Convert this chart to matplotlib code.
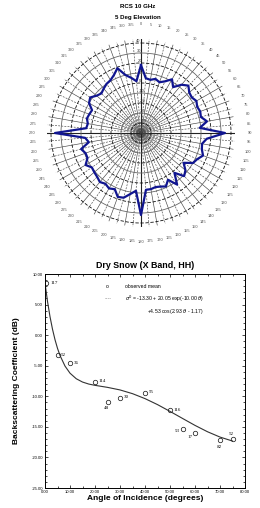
import numpy as np
import matplotlib
matplotlib.use("Agg")
import matplotlib.pyplot as plt
from matplotlib.ticker import MultipleLocator, FormatStrFormatter

plt.rcParams['font.family'] = ['Liberation Sans', 'DejaVu Sans']

# ---- polar RCS data (deg clockwise from north, dBsm) ----
az_deg = list(range(0, 360, 5))
rcs_db = [18, 5, 4, 6, 4, 7, 12, 6, 13, 17, 13, 12, 14, 12, 13, 12, 17, 9,
          34, 16, 12, 13, 16, 12, 10, 2, 8, 11, 2, 13, 4, 9, 7, 6, 7, 7,
          32, 8, 12, 17, 18, 12, 14, 12, 14, 12, 11, 10, 14, 9, 9, 12, 3, 6,
          36, 5, 4, 6, 5, 4, 10, 12, 8, 6, 8, 10, 11, 14, 19, 10, 6, 2]
ring_vals = [-40, -30, -20, -10, 0, 10, 20, 30, 40]

# ---- dry snow backscatter data ----
inc_angle = [0.5, 5, 10, 20, 25, 30, 40, 50, 55, 60, 70, 75]
obs_mean = [8.6, -3.3, -4.6, -7.6, -11.0, -10.2, -9.4, -12.3, -15.4, -16.0, -17.2, -17.0]
n_obs = ['117', '52', '36', '114', '48', '30', '55', '116', '53', '17', '82', '52']
# fitted curve
fit_angle = [0, 1, 2, 3, 4, 5, 6, 8, 10, 12.5, 15, 17.5, 20, 25, 30, 35, 40, 45,
             50, 55, 60, 65, 70, 75]
fit_db = [8.52, 5.52, 3.03, 0.97, -0.74, -2.16, -3.32, -5.06, -6.22, -7.13, -7.67,
          -8.00, -8.21, -8.54, -8.96, -9.57, -10.38, -11.36, -12.47, -13.62,
          -14.76, -15.80, -16.67, -17.32]

W, H = 260, 508
fig = plt.figure(figsize=(W / 100, H / 100), dpi=100)

# ================= polar chart =================
ax = fig.add_axes([47 / W, 1 - 227 / H, 188 / W, 188 / H], projection='polar')
ax.set_theta_zero_location('N')
ax.set_theta_direction(-1)
ax.set_ylim(-50, 44)
th = np.deg2rad(az_deg + [az_deg[0]])
rr = rcs_db + [rcs_db[0]]
ax.plot(th, rr, color='#101590', lw=1.6, zorder=5)

ax.set_thetagrids(az_deg, labels=[str(a) for a in az_deg], fontsize=2.9, color='#555555')
ax.tick_params(axis='x', pad=0)
ax.set_rgrids(ring_vals, labels=[str(v) for v in ring_vals], angle=357,
              fontsize=2.9, color='#333333')
ax.spines['polar'].set_visible(False)
for i, gl in enumerate(ax.xaxis.get_gridlines()):
    if az_deg[i] % 90 == 0:
        gl.set_color('#222222'); gl.set_linewidth(0.8); gl.set_linestyle('-')
    else:
        gl.set_color('#444444'); gl.set_linewidth(0.45)
        gl.set_linestyle('-' if az_deg[i] % 10 == 0 else (0, (3, 2)))
for i, gl in enumerate(ax.yaxis.get_gridlines()):
    gl.set_color('#111111' if i % 2 == 0 else '#666666')
    gl.set_linewidth(0.6)
    gl.set_linestyle((0, (4, 2)) if i % 2 == 0 else '-')
ax.set_facecolor('white')

fig.text(138 / W, 1 - 7 / H, 'RCS 10 GHz', ha='center', va='center',
         fontsize=4.4, fontweight='bold')
fig.text(138 / W, 1 - 17 / H, '5 Deg Elevation', ha='center', va='center',
         fontsize=4.4, fontweight='bold')

# ================= backscatter chart =================
bx = fig.add_axes([45 / W, 1 - 488 / H, 200 / W, 214 / H])
bx.plot(fit_angle, fit_db, color='#333333', lw=0.8)
bx.plot(inc_angle, obs_mean, 'o', mfc='none', mec='#222222', ms=3.2, mew=0.55)

offs = {'117': (3, 0, 'left'), '48': (1, -4, 'right'), '53': (-2, -1, 'right'),
        '17': (-2, -3, 'right'), '82': (1, -5, 'right')}
for i, (xa, ya, lab) in enumerate(zip(inc_angle, obs_mean, n_obs)):
    dx, dy, ha = offs.get(lab, (2.5, 0.5, 'left'))
    if i == len(n_obs) - 1:
        dx, dy, ha = (-1, 4, 'center')
    bx.annotate(lab, (xa, ya), xytext=(dx, dy), textcoords='offset points',
                ha=ha, va='center', fontsize=3.6, family='Liberation Serif')

bx.set_xlim(0, 80)
bx.set_ylim(-25, 10)
bx.xaxis.set_major_locator(MultipleLocator(10))
bx.xaxis.set_minor_locator(MultipleLocator(5))
bx.yaxis.set_major_locator(MultipleLocator(5))
bx.yaxis.set_minor_locator(MultipleLocator(1))
bx.xaxis.set_major_formatter(FormatStrFormatter('%.2f'))
bx.yaxis.set_major_formatter(FormatStrFormatter('%.2f'))
bx.tick_params(which='both', direction='in', top=True, right=True, width=0.5,
               labelsize=3.0, pad=1.5)
bx.tick_params(which='major', length=2.5)
bx.tick_params(which='minor', length=1.3)
for s in bx.spines.values():
    s.set_linewidth(0.7)

bx.set_title('Dry Snow (X Band, HH)', fontsize=6.4, fontweight='bold', pad=4)
bx.set_xlabel('Angle of Incidence (degrees)', fontsize=6.0, fontweight='bold', labelpad=1)
bx.set_ylabel('Backscattering Coefficient (dB)', fontsize=6.0, fontweight='bold', labelpad=8)

# legend drawn as text like the original
lx = dict(transform=fig.transFigure, fontsize=3.7, va='center')
fig.text(107 / W, 1 - 287 / H, 'o', ha='center', **lx)
fig.text(125 / W, 1 - 287 / H, 'observed mean', **lx)
fig.text(105 / W, 1 - 299 / H, '----', color='#777777', **lx)
fig.text(125 / W, 1 - 299 / H, r'$\sigma^0$ = -13.30 + 20.05 exp(-10.00 $\theta$)', **lx)
fig.text(147 / W, 1 - 311 / H, r'+4.53 cos(2.93 $\theta$ - 1.17)', **lx)

fig.savefig('out.png', dpi=100)
